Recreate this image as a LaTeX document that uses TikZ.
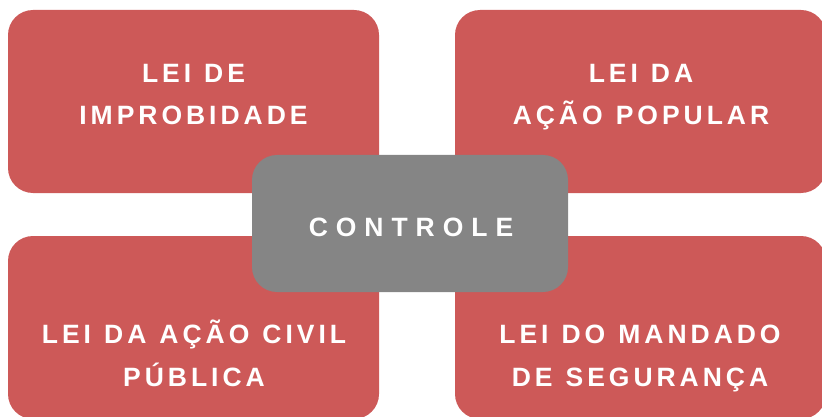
\documentclass[tikz,border=0pt]{standalone}
\usepackage{fontspec}
\setmainfont{Liberation Sans}
\newfontfamily\leifont{Liberation Sans}[LetterSpace=15, WordSpace=1.15]
\newfontfamily\ctrlfont{Liberation Sans}[LetterSpace=30]
\usetikzlibrary{positioning}
\definecolor{leicolor}{RGB}{205,89,88}
\definecolor{ctrlcolor}{RGB}{133,133,133}

\begin{document}
\begin{tikzpicture}[
    x=1pt, y=-1pt,
    lei/.style={fill=leicolor, rounded corners=25pt, minimum width=371pt, minimum height=183pt, inner sep=0pt},
    ctrl/.style={fill=ctrlcolor, rounded corners=25pt, minimum width=316pt, minimum height=137pt, inner sep=0pt},
    leitext/.style={text=white, align=center, inner sep=0pt, anchor=base, font=\leifont\bfseries\fontsize{26.5}{43}\selectfont},
    ctrltext/.style={text=white, inner sep=0pt, anchor=base, font=\ctrlfont\bfseries\fontsize{26.5}{43}\selectfont}
]
    \useasboundingbox (0,0) rectangle (822,417);

    % the four laws
    \node[lei] (improb) at (193.5,101.5) {};
    \node[lei] (popular) at (640.5,101.5) {};
    \node[lei] (civil) at (193.5,327.5) {};
    \node[lei] (mandado) at (640.5,327.5) {};

    % centre
    \node[ctrl] (controle) at (410,223.5) {};

    % texts (anchored at the baseline of the last line)
    \node[leitext] (improbtxt) at (193.5,125) {LEI DE\\IMPROBIDADE};
    \node[leitext] (populartxt) at (641,125) {LEI DA\\AÇÃO POPULAR};
    \node[leitext] (civiltxt) at (194,386) {LEI DA AÇÃO CIVIL\\PÚBLICA};
    \node[leitext] (mandadotxt) at (640,386) {LEI DO MANDADO\\DE SEGURANÇA};
    \node[ctrltext] (controletxt) at (411,236) {CONTROLE};
\end{tikzpicture}
\end{document}
